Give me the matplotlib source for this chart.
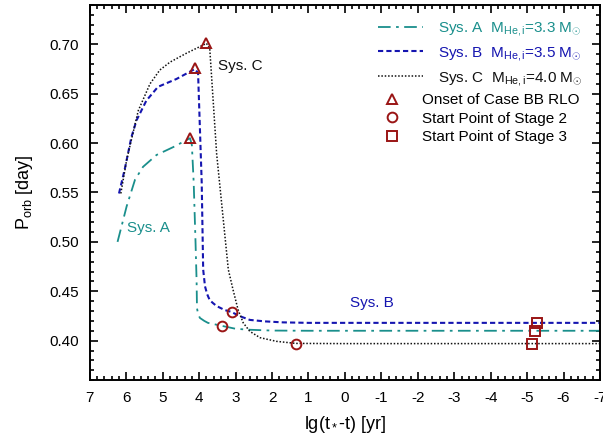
import matplotlib
matplotlib.use("Agg")
import matplotlib.pyplot as plt
from matplotlib.ticker import MultipleLocator, FixedLocator

plt.rcParams['font.family'] = ['Liberation Sans', 'DejaVu Sans']
plt.rcParams['mathtext.fontset'] = 'custom'
plt.rcParams['mathtext.rm'] = 'Liberation Sans'
plt.rcParams['mathtext.it'] = 'Liberation Sans'
plt.rcParams['axes.unicode_minus'] = False

# ---- data ----
sysA_x = [6.24, 5.99, 5.76, 5.54, 5.17, 4.71, 4.25, 4.20, 4.15, 4.10, 4.07, 4.06, 4.03, 3.98, 3.86, 3.76, 3.38, 3.00, 2.60, 2.00, 1.00, 0.0, -7.0]
sysA_y = [0.500, 0.536, 0.563, 0.576, 0.588, 0.596, 0.605, 0.598, 0.560, 0.500, 0.460, 0.433, 0.427, 0.423, 0.420, 0.418, 0.415, 0.412, 0.411, 0.4102, 0.410, 0.410, 0.410]

sysB_x = [6.20, 6.04, 5.86, 5.72, 5.45, 5.13, 4.62, 4.12, 4.03, 3.93, 3.89, 3.84, 3.78, 3.71, 3.62, 3.52, 3.30, 3.11, 2.90, 2.61, 2.20, 1.70, 1.00, 0.0, -7.0]
sysB_y = [0.549, 0.574, 0.606, 0.623, 0.643, 0.657, 0.665, 0.675, 0.671, 0.560, 0.472, 0.455, 0.447, 0.441, 0.438, 0.435, 0.431, 0.429, 0.425, 0.421, 0.4195, 0.4185, 0.418, 0.418, 0.418]

sysC_x = [6.15, 5.99, 5.67, 5.35, 5.08, 4.80, 4.35, 3.80, 3.71, 3.52, 3.20, 3.07, 2.93, 2.79, 2.61, 2.33, 1.88, 1.35, 0.0, -7.0]
sysC_y = [0.549, 0.583, 0.633, 0.660, 0.674, 0.682, 0.691, 0.701, 0.696, 0.589, 0.472, 0.4515, 0.431, 0.418, 0.4094, 0.403, 0.3993, 0.3972, 0.397, 0.397]

onset_x = [4.25, 4.12, 3.80]
onset_y = [0.605, 0.676, 0.701]
stage2_x = [3.38, 3.11, 1.35]
stage2_y = [0.415, 0.429, 0.397]
stage3_x = [-5.23, -5.27, -5.14]
stage3_y = [0.410, 0.418, 0.397]

labels_sys = ["Sys. A  M$_{\\rm He,i}$=3.3 M$_{\\odot}$",
              "Sys. B  M$_{\\rm He,i}$=3.5 M$_{\\odot}$",
              "Sys. C  M$_{\\rm He,i}$=4.0 M$_{\\odot}$"]
labels_mark = ["Onset of Case BB RLO", "Start Point of Stage 2", "Start Point of Stage 3"]

teal = "#1a8f8c"
blue = "#1515b0"
black = "#111111"
red = "#9a1515"

fig = plt.figure(figsize=(6.03, 4.41), dpi=100)
ax = fig.add_axes([0.149, 0.138, 0.846, 0.851])

lA, = ax.plot(sysA_x, sysA_y, color=teal, lw=1.3, linestyle=(0, (7, 3, 1.5, 3)))
lB, = ax.plot(sysB_x, sysB_y, color=blue, lw=1.5, linestyle=(0, (2.5, 1.5)))
lC, = ax.plot(sysC_x, sysC_y, color=black, lw=1.1, linestyle=(0, (1, 1.2)))

ms = 7
mt = ax.plot(onset_x, onset_y, ls='none', marker='^', ms=ms, mfc='none', mec=red, mew=1.4, zorder=5)[0]
mc = ax.plot(stage2_x, stage2_y, ls='none', marker='o', ms=ms, mfc='none', mec=red, mew=1.4, zorder=5)[0]
msq = ax.plot(stage3_x, stage3_y, ls='none', marker='s', ms=ms - 0.5, mfc='none', mec=red, mew=1.4, zorder=5)[0]

ax.set_xlim(7, -7)
ax.set_ylim(0.36, 0.74)
ax.xaxis.set_major_locator(MultipleLocator(1))
ax.xaxis.set_minor_locator(MultipleLocator(0.2))
ax.yaxis.set_major_locator(FixedLocator([0.40, 0.45, 0.50, 0.55, 0.60, 0.65, 0.70]))
ax.yaxis.set_minor_locator(MultipleLocator(0.01))
ax.set_yticklabels(["0.40", "0.45", "0.50", "0.55", "0.60", "0.65", "0.70"])
ax.tick_params(which='both', direction='in', top=True, right=True, labelsize=11, width=1.2)
ax.tick_params(which='major', length=6, pad=8)
ax.tick_params(which='minor', length=3)
for s in ax.spines.values():
    s.set_linewidth(1.4)

ax.set_xlabel("lg(t$_*$-t) [yr]", fontsize=13, labelpad=6)
ax.set_ylabel("P$_{\\rm orb}$ [day]", fontsize=13, labelpad=10)

ax.text(2.88, 0.678, "Sys. C", color=black, fontsize=11, ha='center', va='center')
ax.text(5.38, 0.514, "Sys. A", color=teal, fontsize=11, ha='center', va='center')
ax.text(-0.74, 0.438, "Sys. B", color=blue, fontsize=11, ha='center', va='center')

leg1 = ax.legend([lA, lB, lC], labels_sys, loc='upper left', bbox_to_anchor=(0.565, 0.96),
                 frameon=False, fontsize=11, handlelength=2.95, handletextpad=1.0,
                 labelspacing=0.45, borderaxespad=0, borderpad=0)
for t, c in zip(leg1.get_texts(), [teal, blue, black]):
    t.set_color(c)
ax.add_artist(leg1)
leg2 = ax.legend([mt, mc, msq], labels_mark, loc='upper left', bbox_to_anchor=(0.568, 0.765),
                 frameon=False, fontsize=11, handlelength=1.6, handletextpad=1.2,
                 labelspacing=0.3, borderaxespad=0, borderpad=0)

fig.savefig("out.png", dpi=100)
